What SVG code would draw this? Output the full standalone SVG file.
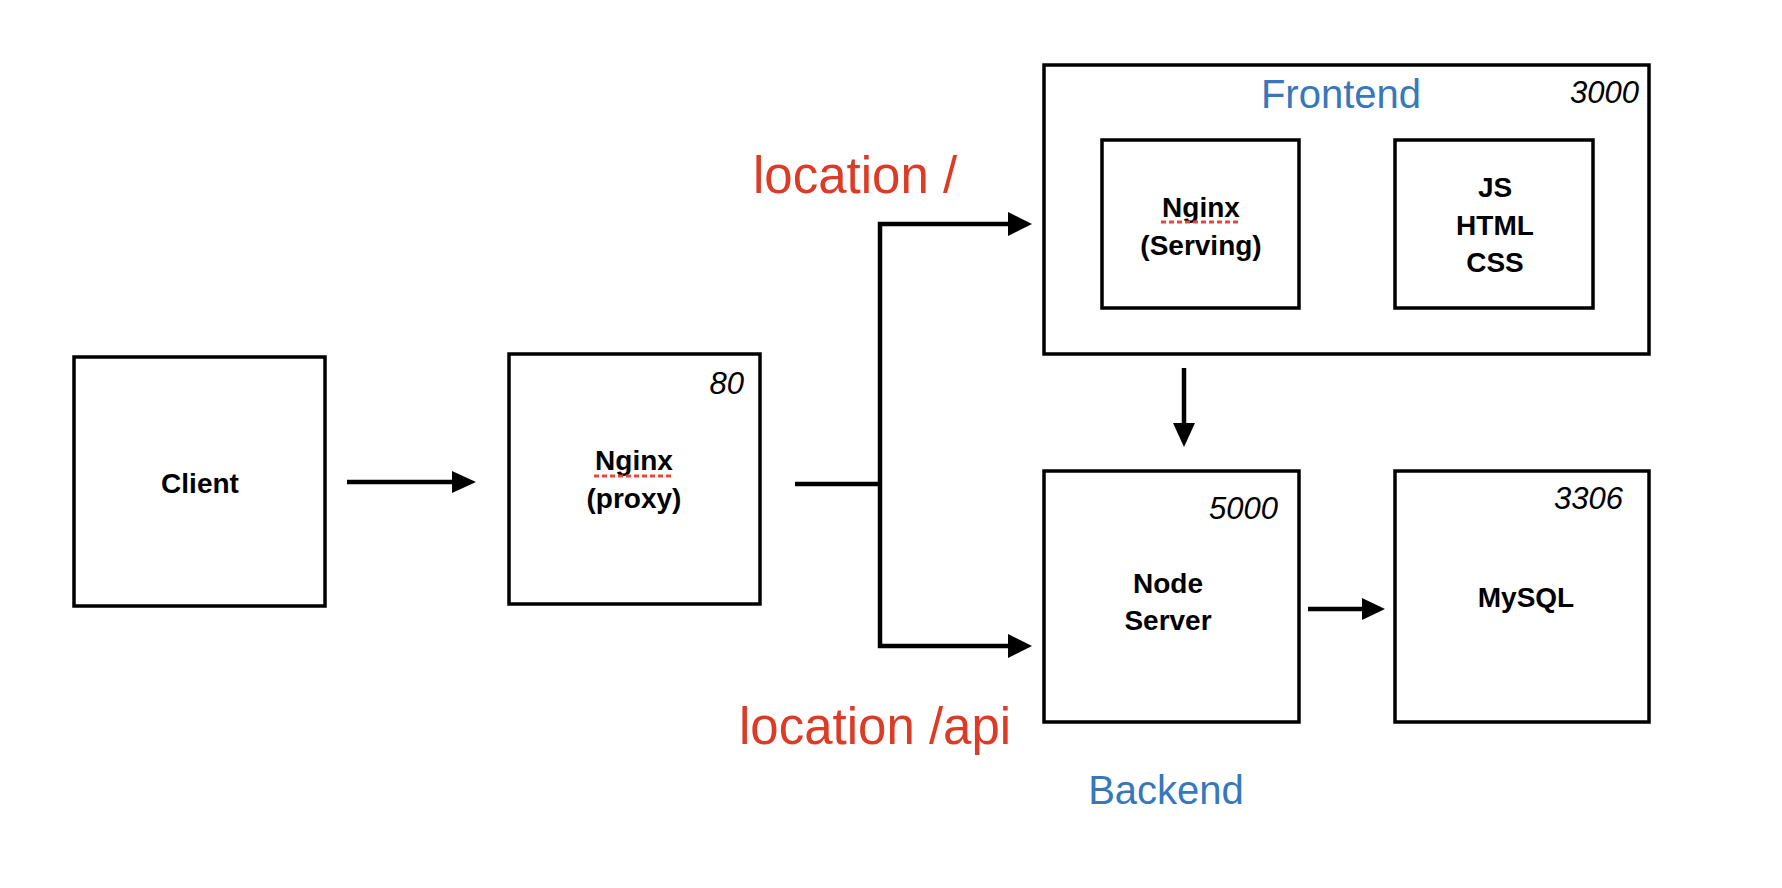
<svg xmlns="http://www.w3.org/2000/svg" width="1782" height="888" viewBox="0 0 1782 888">
<defs>
<style>
.box{fill:#fff;stroke:#000;stroke-width:3.5}
.lbl{font-family:"Liberation Sans",Arial,sans-serif;font-weight:bold;font-size:28px;fill:#000;text-anchor:middle}
.port{font-family:"Liberation Sans",Arial,sans-serif;font-style:italic;font-size:31px;fill:#000;text-anchor:end}
.loc{font-family:"Liberation Sans",Arial,sans-serif;font-size:51px;fill:#dc3b26}
.grp{font-family:"Liberation Sans",Arial,sans-serif;font-size:40px;fill:#3777bc}
.conn{fill:none;stroke:#000;stroke-width:4.5}
.squig{stroke:#e8453c;stroke-width:3;stroke-dasharray:5,3}
</style>
</defs>
<rect width="1782" height="888" fill="#fff"/>
<g id="frontend">
<rect class="box" x="1044" y="65" width="605" height="289"/>
<text class="grp" x="1341" y="108" text-anchor="middle">Frontend</text>
<text class="port" x="1639" y="103">3000</text>
</g>
<g id="nginx-serving">
<rect class="box" x="1102" y="140" width="197" height="168"/>
<text class="lbl" x="1201" y="217">Nginx</text>
<line class="squig" x1="1161" y1="222" x2="1239" y2="222"/>
<text class="lbl" x="1201" y="255">(Serving)</text>
</g>
<g id="assets">
<rect class="box" x="1395" y="140" width="198" height="168"/>
<text class="lbl" x="1495" y="197">JS</text>
<text class="lbl" x="1495" y="235">HTML</text>
<text class="lbl" x="1495" y="272">CSS</text>
</g>
<g id="client">
<rect class="box" x="74" y="357" width="251" height="249"/>
<text class="lbl" x="200" y="493">Client</text>
</g>
<g id="nginx-proxy">
<rect class="box" x="509" y="354" width="251" height="250"/>
<text class="port" x="744" y="394">80</text>
<text class="lbl" x="634" y="470">Nginx</text>
<line class="squig" x1="594" y1="476" x2="672" y2="476"/>
<text class="lbl" x="634" y="508">(proxy)</text>
</g>
<g id="node-server">
<rect class="box" x="1044" y="471" width="255" height="251"/>
<text class="port" x="1278" y="519">5000</text>
<text class="lbl" x="1168" y="593">Node</text>
<text class="lbl" x="1168" y="630">Server</text>
</g>
<g id="mysql">
<rect class="box" x="1395" y="471" width="254" height="251"/>
<text class="port" x="1623" y="509">3306</text>
<text class="lbl" x="1526" y="607">MySQL</text>
</g>
<g id="labels">
<text class="loc" x="753" y="193">location /</text>
<text class="loc" x="739" y="744">location /api</text>
<text class="grp" x="1166" y="804" text-anchor="middle">Backend</text>
</g>
<g id="connectors">
<line class="conn" x1="347" y1="482" x2="452" y2="482"/>
<path d="M452,471 L476,482 L452,493 Z"/>
<path class="conn" d="M795,484 L880,484"/>
<path class="conn" d="M1008,224 L880,224 L880,646 L1008,646"/>
<path d="M1008,212 L1032,224 L1008,236 Z"/>
<path d="M1008,634 L1032,646 L1008,658 Z"/>
<line class="conn" x1="1184" y1="368" x2="1184" y2="424"/>
<path d="M1173,423 L1184,447 L1195,423 Z"/>
<line class="conn" x1="1308" y1="609" x2="1363" y2="609"/>
<path d="M1362,598 L1385,609 L1362,620 Z"/>
</g>
</svg>
